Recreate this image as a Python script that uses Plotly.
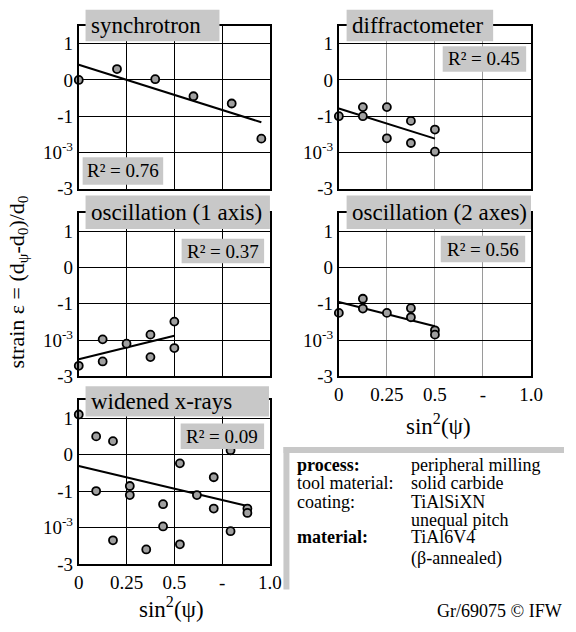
import plotly.graph_objects as go

W, H = 576, 632
FONT = "Liberation Serif, Times New Roman, DejaVu Serif, serif"

# ---- data ----
titles = ["synchrotron", "diffractometer", "oscillation (1 axis)", "oscillation (2 axes)", "widened x-rays"]
r2_labels = ["R² = 0.76", "R² = 0.45", "R² = 0.37", "R² = 0.56", "R² = 0.09"]

sync_x = [0.0, 0.20, 0.40, 0.60, 0.80, 0.955]
sync_y = [0.0, 0.30, 0.02, -0.45, -0.65, -1.62]
sync_fit_x = [0.0, 0.955]
sync_fit_y = [0.42, -1.17]

diff_x = [0.0, 0.125, 0.125, 0.25, 0.25, 0.375, 0.375, 0.5, 0.5]
diff_y = [-1.0, -0.75, -1.0, -0.75, -1.61, -1.13, -1.74, -1.37, -1.98]
diff_fit_x = [0.0, 0.5]
diff_fit_y = [-0.79, -1.62]

osc1_x = [0.0, 0.125, 0.125, 0.25, 0.375, 0.375, 0.5, 0.5]
osc1_y = [-2.71, -1.98, -2.59, -2.10, -1.85, -2.47, -1.49, -2.22]
osc1_fit_x = [0.0, 0.5]
osc1_fit_y = [-2.53, -1.88]

osc2_x = [0.0, 0.125, 0.125, 0.25, 0.375, 0.375, 0.5, 0.5]
osc2_y = [-1.25, -0.86, -1.13, -1.25, -1.12, -1.37, -1.73, -1.85]
osc2_fit_x = [0.0, 0.5]
osc2_fit_y = [-0.95, -1.62]

wide_x = [0.0, 0.091, 0.179, 0.091, 0.267, 0.267, 0.179, 0.353, 0.441, 0.441,
          0.529, 0.529, 0.618, 0.706, 0.706, 0.794, 0.794, 0.882, 0.882]
wide_y = [1.10, 0.50, 0.37, -1.0, -0.86, -1.11, -2.35, -2.60, -1.36, -1.97,
          -0.24, -2.46, -1.11, -0.62, -1.48, 0.12, -2.10, -1.48, -1.60]
wide_fit_x = [0.0, 0.882]
wide_fit_y = [-0.31, -1.41]

y_tickvals = [-3, -2, -1, 0, 1]
y_ticktext = ["-3", "10<sup>-3</sup>", "-1", "0", "1"]
x_tickvals = [0, 0.25, 0.5, 0.75, 1.0]
x_ticktext = ["0", "0.25", "0.5", "-", "1.0"]

info_keys = ["<b>process:</b>", "tool material:", "coating:", "", "<b>material:</b>", ""]
info_vals = ["peripheral milling", "solid carbide", "TiAlSiXN", "unequal pitch", "TiAl6V4", "(β-annealed)"]

series = [
    (sync_x, sync_y, sync_fit_x, sync_fit_y),
    (diff_x, diff_y, diff_fit_x, diff_fit_y),
    (osc1_x, osc1_y, osc1_fit_x, osc1_fit_y),
    (osc2_x, osc2_y, osc2_fit_x, osc2_fit_y),
    (wide_x, wide_y, wide_fit_x, wide_fit_y),
]

# ---- layout geometry (pixels) ----
panels = [  # left, right, top, bottom
    (76, 273, 26, 192),
    (344, 542, 26, 192),
    (76, 273, 217, 383),
    (344, 542, 217, 383),
    (76, 273, 407, 574),
]
title_boxes = [  # x0, x1, y0, y1
    (83, 221, 10, 42),
    (352, 503, 10, 42),
    (83, 273, 199, 233),
    (352, 542, 199, 233),
    (83, 272, 393, 424),
]
r2_boxes = [
    (80, 163, 160, 188),
    (451, 537, 47, 73),
    (182, 267, 243, 268),
    (449, 536, 240, 267),
    (181, 267, 431, 457),
]
show_xlabels = [False, False, False, True, True]

def px(x):
    return x / W

def py(y):
    return 1 - y / H

fig = go.Figure()
shapes = []
annotations = []
GRAY = "#c8c8c8"

for i, (xs, ys, fx, fy) in enumerate(series):
    n = "" if i == 0 else str(i + 1)
    xa, ya = "x" + n, "y" + n
    fig.add_trace(go.Scatter(x=fx, y=fy, mode="lines", xaxis=xa, yaxis=ya,
                             line=dict(color="black", width=2), showlegend=False,
                             cliponaxis=False))
    fig.add_trace(go.Scatter(x=xs, y=ys, mode="markers", xaxis=xa, yaxis=ya,
                             marker=dict(size=8, color="#a0a0a0",
                                         line=dict(color="black", width=1.8)),
                             showlegend=False, cliponaxis=False))
    l, r, t, b = panels[i]
    vgrid = "black" if i in (0, 2, 4) else "#9a9a9a"
    fig.layout["xaxis" + n] = dict(
        domain=[px(l), px(r)], range=[0, 1.0], anchor=ya,
        tickvals=x_tickvals, ticktext=x_ticktext, showticklabels=show_xlabels[i],
        showgrid=True, gridcolor=vgrid, gridwidth=1, zeroline=False,
        showline=True, mirror=True, linecolor="black", linewidth=2, ticks="",
        tickfont=dict(family=FONT, size=19, color="black"),
    )
    fig.layout["yaxis" + n] = dict(
        domain=[py(b), py(t)], range=[-3, 1.5], anchor=xa,
        tickvals=y_tickvals, ticktext=y_ticktext,
        showgrid=True, gridcolor="black", gridwidth=1, zeroline=False,
        showline=True, mirror=True, linecolor="black", linewidth=2, ticks="",
        tickfont=dict(family=FONT, size=19, color="black"),
    )
    x0, x1, y0, y1 = title_boxes[i]
    shapes.append(dict(type="rect", xref="paper", yref="paper",
                       x0=px(x0), x1=px(x1), y0=py(y1), y1=py(y0),
                       fillcolor=GRAY, line=dict(width=0), layer="above"))
    annotations.append(dict(xref="paper", yref="paper", x=px(x0 + 4), y=py((y0 + y1) / 2),
                            xanchor="left", yanchor="middle", showarrow=False,
                            text=titles[i], font=dict(family=FONT, size=23, color="black")))
    x0, x1, y0, y1 = r2_boxes[i]
    shapes.append(dict(type="rect", xref="paper", yref="paper",
                       x0=px(x0), x1=px(x1), y0=py(y1), y1=py(y0),
                       fillcolor=GRAY, line=dict(width=0), layer="above"))
    annotations.append(dict(xref="paper", yref="paper", x=px((x0 + x1) / 2), y=py((y0 + y1) / 2),
                            xanchor="center", yanchor="middle", showarrow=False,
                            text=r2_labels[i], font=dict(family=FONT, size=19, color="black")))

annotations.append(dict(xref="paper", yref="paper", x=px(13), y=py(287),
                        xanchor="center", yanchor="middle", showarrow=False, textangle=-90,
                        text="strain ε = (d<sub>ψ</sub>-d<sub>0</sub>)/d<sub>0</sub>",
                        font=dict(family=FONT, size=22, color="black")))
for cx, cy in [(447, 432), (172, 618)]:
    annotations.append(dict(xref="paper", yref="paper", x=px(cx), y=py(cy),
                            xanchor="center", yanchor="middle", showarrow=False,
                            text="sin<sup>2</sup>(ψ)",
                            font=dict(family=FONT, size=23, color="black")))

shapes.append(dict(type="line", xref="paper", yref="paper",
                   x0=px(287), x1=px(576), y0=py(458), y1=py(458),
                   line=dict(color=GRAY, width=6)))
shapes.append(dict(type="line", xref="paper", yref="paper",
                   x0=px(290), x1=px(290), y0=py(455), y1=py(600),
                   line=dict(color=GRAY, width=6)))
row_y = [473, 492, 511, 529, 547, 568]
for k, v, yy in zip(info_keys, info_vals, row_y):
    if k:
        annotations.append(dict(xref="paper", yref="paper", x=px(299), y=py(yy),
                                xanchor="left", yanchor="middle", showarrow=False,
                                text=k, font=dict(family=FONT, size=18, color="black")))
    annotations.append(dict(xref="paper", yref="paper", x=px(416), y=py(yy),
                            xanchor="left", yanchor="middle", showarrow=False,
                            text=v, font=dict(family=FONT, size=18, color="black")))
annotations.append(dict(xref="paper", yref="paper", x=px(576), y=py(622),
                        xanchor="right", yanchor="middle", showarrow=False,
                        text="Gr/69075 © IFW", font=dict(family=FONT, size=18, color="black")))

fig.update_layout(width=W, height=H, margin=dict(l=0, r=0, t=0, b=0),
                  paper_bgcolor="white", plot_bgcolor="white",
                  shapes=shapes, annotations=annotations, showlegend=False)

fig.write_html("out.html")
